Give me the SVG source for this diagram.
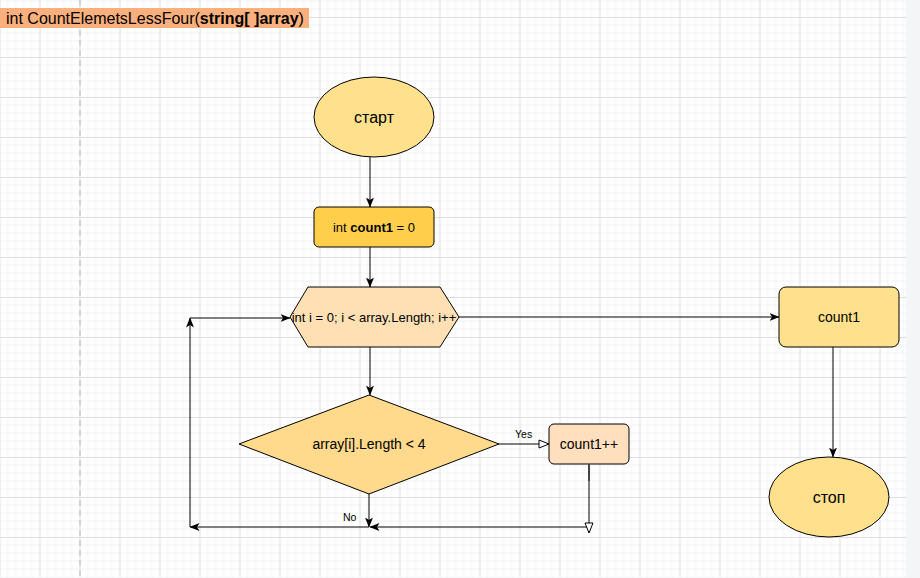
<svg xmlns="http://www.w3.org/2000/svg" width="920" height="578" viewBox="0 0 920 578">
  <defs>
    <pattern id="grid" x="-0.5" y="17" width="40" height="40" patternUnits="userSpaceOnUse">
      <path d="M8 0V40M16 0V40M24 0V40M32 0V40M0 8H40M0 16H40M0 24H40M0 32H40" stroke="#f2f2f2" stroke-width="1" fill="none"/>
      <path d="M0.5 0V40M0 0.5H40" stroke="#dedede" stroke-width="1" fill="none"/>
    </pattern>
    <marker id="arr" viewBox="0 0 10 8" refX="9.5" refY="4" markerWidth="10" markerHeight="8" markerUnits="userSpaceOnUse" orient="auto">
      <path d="M0 0L10 4L0 8L2.5 4Z" fill="#000"/>
    </marker>
    <marker id="open" viewBox="0 0 12 10" refX="11" refY="5" markerWidth="12" markerHeight="10" markerUnits="userSpaceOnUse" orient="auto">
      <path d="M1 1L11 5L1 9Z" fill="#fff" stroke="#000" stroke-width="1"/>
    </marker>
    <style>
      .shape{stroke:#000;stroke-width:1}
      .t{font-family:"Liberation Sans",Arial,sans-serif;fill:#000;text-anchor:middle}
      .edge{fill:none;stroke:#000;stroke-width:1}
    </style>
  </defs>

  <rect x="0" y="0" width="920" height="578" fill="#fff"/>
  <rect x="0" y="0" width="906" height="577" fill="url(#grid)"/>
  <line x1="80" y1="0" x2="80" y2="577" stroke="#b8b8b8" stroke-width="1" stroke-dasharray="6 4"/>
  <rect x="906" y="0" width="14" height="578" fill="#f4f5f7"/>
  <rect x="0" y="577" width="920" height="1" fill="#f4f5f7"/>

  <g id="title">
    <rect x="0" y="8" width="309" height="20" fill="#f9b07c"/>
    <text x="6" y="23.5" font-family="Liberation Sans, Arial, sans-serif" font-size="16" fill="#000">int CountElemetsLessFour(<tspan font-weight="bold">string[ ]array</tspan>)</text>
  </g>

  <g id="start">
    <ellipse class="shape" cx="374" cy="117" rx="60" ry="40" fill="#ffe08c"/>
    <text class="t" x="374" y="122.5" font-size="16">старт</text>
  </g>

  <g id="init">
    <rect class="shape" x="314" y="207" width="120" height="40" rx="5" fill="#ffcf4c"/>
    <text class="t" x="374" y="231.5" font-size="13">int <tspan font-weight="bold">count1</tspan> = 0</text>
  </g>

  <g id="loop">
    <polygon class="shape" points="290,317 308,287 440,287 459,317 440,347 308,347" fill="#ffe0b5"/>
    <text class="t" x="374" y="321.5" font-size="13">int i = 0; i &lt; array.Length; i++</text>
  </g>

  <g id="cond">
    <polygon class="shape" points="239,444 369,395 499,444 369,494" fill="#ffd98c"/>
    <text class="t" x="369" y="449" font-size="14">array[i].Length &lt; 4</text>
  </g>

  <g id="inc">
    <rect class="shape" x="549" y="424" width="80" height="40" rx="5" fill="#ffdfbe"/>
    <text class="t" x="589" y="449" font-size="14">count1++</text>
  </g>

  <g id="result">
    <rect class="shape" x="779" y="287" width="120" height="60" rx="7" fill="#ffe08c"/>
    <text class="t" x="839" y="322" font-size="14">count1</text>
  </g>

  <g id="stop">
    <ellipse class="shape" cx="829" cy="497" rx="60" ry="40" fill="#ffe08c"/>
    <text class="t" x="829" y="502.5" font-size="16">стоп</text>
  </g>

  <g id="connectors">
    <path class="edge" d="M370 157V207" marker-end="url(#arr)"/>
    <path class="edge" d="M370 247V287" marker-end="url(#arr)"/>
    <path class="edge" d="M459 317H779" stroke="#222" marker-end="url(#arr)"/>
    <path class="edge" d="M833 347V457" marker-end="url(#arr)"/>
    <path class="edge" d="M370 347V395" marker-end="url(#arr)"/>
    <path class="edge" d="M499 444H549" marker-end="url(#open)"/>
    <path class="edge" d="M589 480V533" stroke="#7a7a7a" stroke-width="2" marker-end="url(#open)"/>
    <path d="M589 464V481" stroke="#444" stroke-width="2"/>
    <path class="edge" d="M587 527H370" marker-end="url(#arr)"/>
    <path class="edge" d="M369 494V527" marker-end="url(#arr)"/>
    <path class="edge" d="M369 527H190" marker-end="url(#arr)"/>
    <path class="edge" d="M190 527V318" marker-end="url(#arr)"/>
    <path class="edge" d="M190 318H290" marker-end="url(#arr)"/>
    <text x="515" y="438" font-family="Liberation Sans, Arial, sans-serif" font-size="10.5" fill="#000">Yes</text>
    <text x="343" y="521" font-family="Liberation Sans, Arial, sans-serif" font-size="10.5" fill="#000">No</text>
  </g>
</svg>
